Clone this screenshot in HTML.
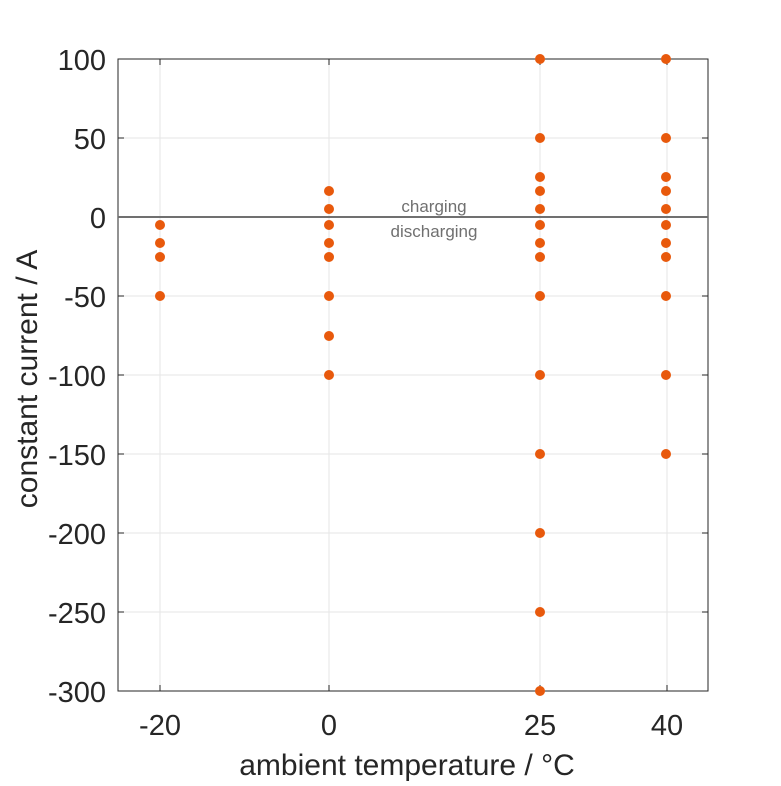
<!DOCTYPE html>
<html><head><style>body{margin:0;background:#fff}</style></head><body>
<svg width="781" height="781" xmlns="http://www.w3.org/2000/svg" font-family="Liberation Sans, sans-serif">
<rect width="781" height="781" fill="#fff"/>
<g stroke="#e6e6e6" stroke-width="1">
<line x1="160" y1="59" x2="160" y2="691"/><line x1="329" y1="59" x2="329" y2="691"/><line x1="540" y1="59" x2="540" y2="691"/><line x1="667" y1="59" x2="667" y2="691"/>
<line x1="118" y1="138" x2="708" y2="138"/><line x1="118" y1="296" x2="708" y2="296"/><line x1="118" y1="375" x2="708" y2="375"/><line x1="118" y1="454" x2="708" y2="454"/><line x1="118" y1="533" x2="708" y2="533"/><line x1="118" y1="612" x2="708" y2="612"/>
</g>
<rect x="118" y="59" width="590" height="632" fill="none" stroke="#262626" stroke-width="1"/>
<g stroke="#262626"><line x1="118" y1="59" x2="124" y2="59"/><line x1="118" y1="138" x2="124" y2="138"/><line x1="118" y1="217" x2="124" y2="217"/><line x1="118" y1="296" x2="124" y2="296"/><line x1="118" y1="375" x2="124" y2="375"/><line x1="118" y1="454" x2="124" y2="454"/><line x1="118" y1="533" x2="124" y2="533"/><line x1="118" y1="612" x2="124" y2="612"/>
<line x1="708" y1="59" x2="702" y2="59"/><line x1="708" y1="138" x2="702" y2="138"/><line x1="708" y1="296" x2="702" y2="296"/><line x1="708" y1="375" x2="702" y2="375"/><line x1="708" y1="454" x2="702" y2="454"/><line x1="708" y1="533" x2="702" y2="533"/><line x1="708" y1="612" x2="702" y2="612"/>
<line x1="160" y1="691" x2="160" y2="685"/><line x1="329" y1="691" x2="329" y2="685"/><line x1="540" y1="691" x2="540" y2="685"/><line x1="667" y1="691" x2="667" y2="685"/>
<line x1="160" y1="59" x2="160" y2="65"/><line x1="329" y1="59" x2="329" y2="65"/><line x1="540" y1="59" x2="540" y2="65"/><line x1="667" y1="59" x2="667" y2="65"/></g>
<line x1="118" y1="217" x2="708" y2="217" stroke="#707070" stroke-width="2"/>
<g font-size="29" fill="#262626" text-anchor="end">
<text x="106" y="70">100</text><text x="106" y="149">50</text><text x="106" y="228">0</text><text x="106" y="307">-50</text><text x="106" y="386">-100</text><text x="106" y="465">-150</text><text x="106" y="544">-200</text><text x="106" y="623">-250</text><text x="106" y="702">-300</text></g>
<g font-size="29" fill="#262626" text-anchor="middle">
<text x="160" y="735">-20</text><text x="329" y="735">0</text><text x="540" y="735">25</text><text x="667" y="735">40</text>
<text x="407" y="775" font-size="30">ambient temperature / °C</text>
<text transform="translate(37,379) rotate(-90)" font-size="30">constant current / A</text></g>
<g font-size="17" fill="#707070" text-anchor="middle"><text x="434" y="212">charging</text><text x="434" y="237">discharging</text></g>
<g fill="#e8590c">
<circle cx="160" cy="225" r="5"/><circle cx="160" cy="243" r="5"/><circle cx="160" cy="257" r="5"/><circle cx="160" cy="296" r="5"/>
<circle cx="329" cy="191" r="5"/><circle cx="329" cy="209" r="5"/><circle cx="329" cy="225" r="5"/><circle cx="329" cy="243" r="5"/><circle cx="329" cy="257" r="5"/><circle cx="329" cy="296" r="5"/><circle cx="329" cy="336" r="5"/><circle cx="329" cy="375" r="5"/>
<circle cx="540" cy="59" r="5"/><circle cx="540" cy="138" r="5"/><circle cx="540" cy="177" r="5"/><circle cx="540" cy="191" r="5"/><circle cx="540" cy="209" r="5"/><circle cx="540" cy="225" r="5"/><circle cx="540" cy="243" r="5"/><circle cx="540" cy="257" r="5"/><circle cx="540" cy="296" r="5"/><circle cx="540" cy="375" r="5"/><circle cx="540" cy="454" r="5"/><circle cx="540" cy="533" r="5"/><circle cx="540" cy="612" r="5"/><circle cx="540" cy="691" r="5"/>
<circle cx="666" cy="59" r="5"/><circle cx="666" cy="138" r="5"/><circle cx="666" cy="177" r="5"/><circle cx="666" cy="191" r="5"/><circle cx="666" cy="209" r="5"/><circle cx="666" cy="225" r="5"/><circle cx="666" cy="243" r="5"/><circle cx="666" cy="257" r="5"/><circle cx="666" cy="296" r="5"/><circle cx="666" cy="375" r="5"/><circle cx="666" cy="454" r="5"/>
</g>
</svg>
</body></html>
